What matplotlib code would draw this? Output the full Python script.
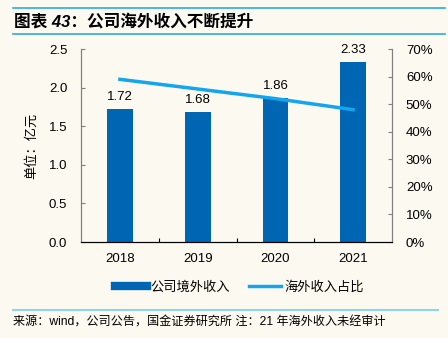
import matplotlib
matplotlib.use("Agg")
import matplotlib.pyplot as plt
from matplotlib.lines import Line2D
from matplotlib.ticker import FuncFormatter

plt.rcParams["font.family"] = ["Liberation Sans", "Noto Sans CJK SC", "DejaVu Sans"]

years = ["2018", "2019", "2020", "2021"]
overseas_rev = [1.72, 1.68, 1.86, 2.33]
overseas_share = [0.59, 0.555, 0.52, 0.48]

bg = "#FCF9F0"
bar_color = "#0066B3"
line_color = "#13A6EE"

fig = plt.figure(figsize=(4.48, 3.38), dpi=100, facecolor=bg)
ax = fig.add_axes([0.181, 0.284, 0.694, 0.571], facecolor=bg)
x = list(range(len(years)))
ax.bar(x, overseas_rev, width=0.33, color=bar_color, zorder=2)
for xi, v in zip(x, overseas_rev):
    ax.text(xi, v + 0.08, f"{v:.2f}", ha="center", va="bottom", fontsize=9.5)
ax.set_xlim(-0.5, 3.5)
ax.set_ylim(0, 2.5)
ax.set_yticks([0, 0.5, 1.0, 1.5, 2.0, 2.5])
ax.yaxis.set_major_formatter(FuncFormatter(lambda v, p: f"{v:.1f}"))
ax.set_xticks([0.5, 1.5, 2.5])
ax.set_xticklabels([])
ax.set_xticks(x, minor=True)
ax.set_xticklabels(years, minor=True)
ax.tick_params(axis="x", which="minor", length=0, pad=8, labelsize=9.5)
ax.tick_params(axis="x", which="major", length=3, direction="in")
ax.tick_params(axis="y", labelsize=9.5, length=3, direction="in", color="#808080", pad=10)
ax.set_ylabel("单位：亿元", fontsize=9.5, labelpad=8)
ax.spines["top"].set_visible(False)
ax.spines["left"].set_color("#808080")
ax.spines["right"].set_color("#808080")
ax.spines["bottom"].set_color("black")

ax2 = ax.twinx()
ax2.plot(x, overseas_share, color=line_color, lw=2.5, zorder=3)
ax2.set_ylim(0, 0.7)
ax2.set_yticks([i / 10 for i in range(8)])
ax2.yaxis.set_major_formatter(FuncFormatter(lambda v, p: f"{v:.0%}"))
ax2.tick_params(axis="y", labelsize=9.5, length=3, direction="in", color="#808080", pad=10)
ax2.spines["top"].set_visible(False)
ax2.spines["right"].set_color("#808080")
ax2.spines["left"].set_color("#808080")

handles = [
    Line2D([0], [0], color=bar_color, lw=6),
    Line2D([0], [0], color=line_color, lw=2.5),
]
fig.legend(handles, ["公司境外收入", "海外收入占比"], loc="center",
           bbox_to_anchor=(0.535, 0.151), ncol=2, frameon=False, fontsize=9.5,
           handlelength=2.4, columnspacing=1.45, handletextpad=0.3)

# header / footer
fig.add_artist(Line2D([0.03, 0.993], [0.976, 0.976], color="#29ABE2", lw=1.2))
fig.add_artist(Line2D([0.03, 0.993], [0.899, 0.899], color="#29ABE2", lw=1.2))
fig.text(0.032, 0.937, "图表 43：公司海外收入不断提升", fontsize=12, fontweight="bold",
         style="italic", va="center", ha="left")
fig.add_artist(Line2D([0.03, 0.978], [0.083, 0.083], color="#8FD3F0", lw=1.5))
fig.text(0.03, 0.047, "来源：wind，公司公告，国金证券研究所 注：21 年海外收入未经审计",
         fontsize=8.7, va="center", ha="left")

fig.savefig("out.png", dpi=100, facecolor=bg)
